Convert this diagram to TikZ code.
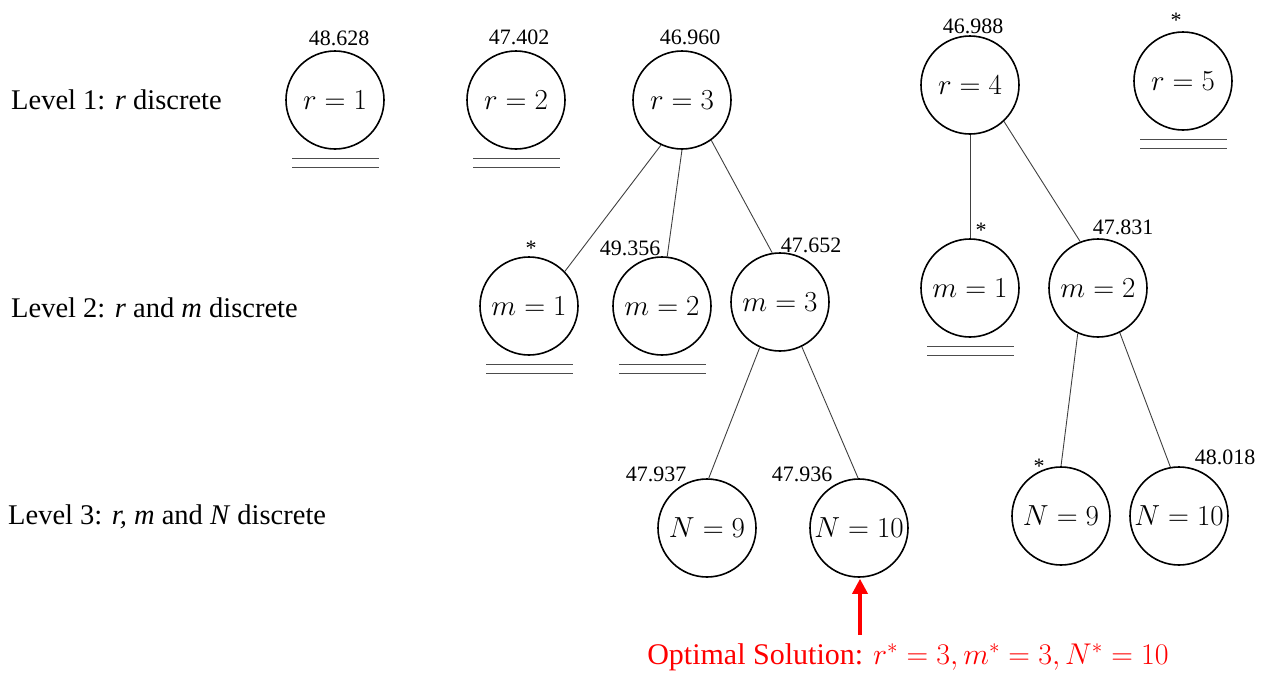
\RequirePackage{fix-cm}
\documentclass[tikz,border=0pt]{standalone}
\usepackage{fontspec}
\setmainfont{Liberation Serif}[ItalicFont={Liberation Serif Italic},BoldFont={Liberation Serif Bold}]
\usetikzlibrary{arrows.meta,calc}
\begin{document}
\begin{tikzpicture}[x=1pt,y=-1pt,
  st/.style={circle,draw,line width=1.6pt,minimum size=98pt,inner sep=0pt,font=\fontsize{29}{34}\selectfont},
  val/.style={inner sep=0pt,font=\fontsize{22}{26}\selectfont},
  ast/.style={inner sep=0pt,font=\fontsize{22}{26}\selectfont},
  lvl/.style={anchor=west,inner sep=0pt,font=\fontsize{28.5}{33}\selectfont},
  edge/.style={draw=black!75,line width=0.9pt},
  bar/.style={draw=black!70,line width=1.3pt}]
\useasboundingbox (0,0) rectangle (1262,673);

% level labels
\node[lvl] (l1) at (11,100) {Level 1: \textit{r} discrete};
\node[lvl] (l2) at (11,308) {Level 2: \textit{r} and \textit{m} discrete};
\node[lvl] (l3) at (8,517) {Level 3: \textit{r, m} and \textit{N} discrete};

% level 1
\node[st] (r1) at (335,100) {$r=1$};
\node[st] (r2) at (516,100) {$r=2$};
\node[st] (r3) at (682,100) {$r=3$};
\node[st] (r4) at (970,85) {$r=4$};
\node[st] (r5) at (1183,81) {$r=5$};

% level 2
\node[st] (m1) at (529,306) {$m=1$};
\node[st] (m2) at (662,306) {$m=2$};
\node[st] (m3) at (780,302) {$m=3$};
\node[st] (m1b) at (970,288) {$m=1$};
\node[st] (m2b) at (1098,288) {$m=2$};

% level 3
\node[st] (n9) at (707,528) {$N=9$};
\node[st] (n10) at (859,528) {$N=10$};
\node[st] (n9b) at (1061,516) {$N=9$};
\node[st] (n10b) at (1179,516) {$N=10$};

% values
\node[val] (v1) at (339,38) {48.628};
\node[val] (v2) at (519,37) {47.402};
\node[val] (v3) at (690,37) {46.960};
\node[val] (v4) at (973,26) {46.988};
\node[val] (v5) at (630,248) {49.356};
\node[val] (v6) at (811,245) {47.652};
\node[val] (v7) at (1123,227) {47.831};
\node[val] (v8) at (656,474) {47.937};
\node[val] (v9) at (802,474) {47.936};
\node[val] (v10) at (1225,457) {48.018};

% asterisks
\node[ast] (a1) at (1176,20) {*};
\node[ast] (a2) at (531,248) {*};
\node[ast] (a3) at (981,230) {*};
\node[ast] (a4) at (1039,466) {*};

% edges
\draw[edge] (r3.-115) -- (m1.44);
\draw[edge] (r3.-90) -- (m2.84);
\draw[edge] (r3.-54) -- (m3.99);
\draw[edge] (r4.-90) -- (m1b.90);
\draw[edge] (r4.-47) -- (m2b.111);
\draw[edge] (m3.-114) -- (n9.88);
\draw[edge] (m3.-64) -- (n10.91);
\draw[edge] (m2b.-114) -- (n9b.90);
\draw[edge] (m2b.-64) -- (n10b.100);

% double bars (pruned)
\foreach \n in {r1,r2,m1,m2,m1b,r5}{
  \draw[bar] ($(\n.south)+(-43,9)$) -- ($(\n.south)+(44,9)$);
  \draw[bar] ($(\n.south)+(-43,18)$) -- ($(\n.south)+(44,18)$);
}

% optimal solution
\coordinate (ab) at (860,635);
\draw[red,line width=3.5pt,-{Triangle[length=15pt,width=15pt]}] (ab) -- ($(n10.south)+(1,1)$);
\node[red,inner sep=0pt,font=\fontsize{30}{34}\selectfont] (opt) at (908,657)
  {Optimal Solution: $r^*=3, m^*=3, N^*=10$};
\end{tikzpicture}
\end{document}
